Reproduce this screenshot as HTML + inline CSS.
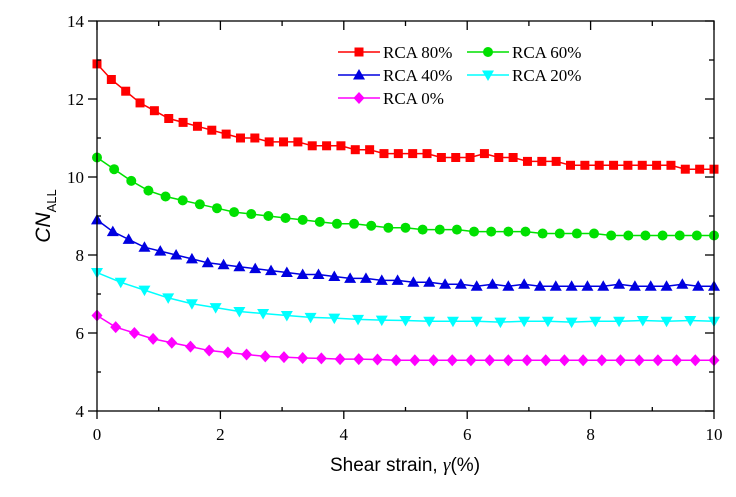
<!DOCTYPE html>
<html><head><meta charset="utf-8"><style>
body{margin:0;background:#fff;width:736px;height:492px;overflow:hidden}
text{fill:#000}
</style></head><body>
<svg id="chart" width="736" height="492" xmlns="http://www.w3.org/2000/svg"></svg>
<script>
const xTicks=[0,2,4,6,8,10];
const yTicks=[4,6,8,10,12,14];
const rca80=[12.9,12.5,12.2,11.9,11.7,11.5,11.4,11.3,11.2,11.1,11.0,11.0,10.9,10.9,10.9,10.8,10.8,10.8,10.7,10.7,10.6,10.6,10.6,10.6,10.5,10.5,10.5,10.6,10.5,10.5,10.4,10.4,10.4,10.3,10.3,10.3,10.3,10.3,10.3,10.3,10.3,10.2,10.2,10.2];
const rca60=[10.5,10.2,9.9,9.65,9.5,9.4,9.3,9.2,9.1,9.05,9.0,8.95,8.9,8.85,8.8,8.8,8.75,8.7,8.7,8.65,8.65,8.65,8.6,8.6,8.6,8.6,8.55,8.55,8.55,8.55,8.5,8.5,8.5,8.5,8.5,8.5,8.5];
const rca40=[8.9,8.6,8.4,8.2,8.1,8.0,7.9,7.8,7.75,7.7,7.65,7.6,7.55,7.5,7.5,7.45,7.4,7.4,7.35,7.35,7.3,7.3,7.25,7.25,7.2,7.25,7.2,7.25,7.2,7.2,7.2,7.2,7.2,7.25,7.2,7.2,7.2,7.25,7.2,7.2];
const rca20=[7.55,7.3,7.1,6.9,6.75,6.65,6.55,6.5,6.45,6.4,6.38,6.35,6.33,6.32,6.3,6.3,6.3,6.28,6.3,6.3,6.28,6.3,6.3,6.32,6.3,6.32,6.3];
const rca0=[6.45,6.15,6.0,5.85,5.75,5.65,5.55,5.5,5.45,5.4,5.38,5.36,5.35,5.33,5.33,5.32,5.3,5.3,5.3,5.3,5.3,5.3,5.3,5.3,5.3,5.3,5.3,5.3,5.3,5.3,5.3,5.3,5.3,5.3];

const L=97,R=714,T=21,B=411;
const sx=v=>L+(v-0)/(10-0)*(R-L);
const sy=v=>B-(v-4)/(14-4)*(B-T);
const svg=document.getElementById('chart');
const NS='http://www.w3.org/2000/svg';
function mk(tag,attrs,parent){const e=document.createElementNS(NS,tag);for(const k in attrs)e.setAttribute(k,attrs[k]);(parent||svg).appendChild(e);return e;}

function marker(shape,x,y,color,g){
  if(shape==='square')return mk('rect',{x:x-4.5,y:y-4.5,width:9,height:9,fill:color},g);
  if(shape==='circle')return mk('circle',{cx:x,cy:y,r:5,fill:color},g);
  if(shape==='up')return mk('polygon',{points:`${x},${y-6} ${x-6},${y+4.5} ${x+6},${y+4.5}`,fill:color},g);
  if(shape==='down')return mk('polygon',{points:`${x},${y+6} ${x-6},${y-4.5} ${x+6},${y-4.5}`,fill:color},g);
  return mk('polygon',{points:`${x},${y-6} ${x+5.5},${y} ${x},${y+6} ${x-5.5},${y}`,fill:color},g);
}

const series=[
 {name:'rca-80',label:'RCA 80%',data:rca80,color:'#ff0000',shape:'square'},
 {name:'rca-60',label:'RCA 60%',data:rca60,color:'#00e000',shape:'circle'},
 {name:'rca-40',label:'RCA 40%',data:rca40,color:'#0000e0',shape:'up'},
 {name:'rca-20',label:'RCA 20%',data:rca20,color:'#00ffff',shape:'down'},
 {name:'rca-0',label:'RCA 0%',data:rca0,color:'#ff00ff',shape:'diamond'}
];
series.forEach(s=>{
  const g=mk('g',{});
  
  
  const n=s.data.length;
  const pts=s.data.map((v,i)=>[sx(i*10/(n-1)),sy(v)]);
  mk('polyline',{points:pts.map(p=>p.join(',')).join(' '),fill:'none',stroke:s.color,'stroke-width':1.5},g);
  pts.forEach(p=>{const m=marker(s.shape,p[0],p[1],s.color,g);
    
    });
});

// axes frame
const ax=mk('rect',{x:L,y:T,width:R-L,height:B-T,fill:'none',stroke:'#000','stroke-width':1.3});


xTicks.forEach((v,i)=>{
  const x=sx(v);
  mk('line',{x1:x,y1:B,x2:x,y2:B+8,stroke:'#000','stroke-width':1.3});
  mk('line',{x1:x,y1:T,x2:x,y2:T+9,stroke:'#000','stroke-width':1.3});
  if(i<xTicks.length-1){const m=sx(v+1);
    mk('line',{x1:m,y1:B,x2:m,y2:B-4,stroke:'#000','stroke-width':1.3});
    mk('line',{x1:m,y1:T,x2:m,y2:T+5,stroke:'#000','stroke-width':1.3});}
  const t=mk('text',{x:x,y:B+29,'text-anchor':'middle','font-family':'Liberation Serif, serif','font-size':17});
  t.textContent=v;
  
  
});
yTicks.forEach((v,i)=>{
  const y=sy(v);
  mk('line',{x1:L-9,y1:y,x2:L,y2:y,stroke:'#000','stroke-width':1.3});
  mk('line',{x1:R-9,y1:y,x2:R,y2:y,stroke:'#000','stroke-width':1.3});
  if(i<yTicks.length-1){const m=sy(v+1);
    mk('line',{x1:L,y1:m,x2:L+4,y2:m,stroke:'#000','stroke-width':1.3});
    mk('line',{x1:R-5,y1:m,x2:R,y2:m,stroke:'#000','stroke-width':1.3});}
  const t=mk('text',{x:L-13,y:y+6,'text-anchor':'end','font-family':'Liberation Serif, serif','font-size':17});
  t.textContent=v;
  
  
});
const xt=mk('text',{x:405,y:471,'text-anchor':'middle','font-family':'Liberation Sans, sans-serif','font-size':19});
xt.innerHTML='Shear strain, <tspan font-family="Liberation Serif, serif" font-style="italic">γ</tspan>(%)';


const yt=mk('text',{transform:'translate(50,216) rotate(-90)','text-anchor':'middle','font-family':'Liberation Sans, sans-serif','font-size':21});
yt.innerHTML='<tspan font-style="italic">CN</tspan><tspan font-size="13" dy="6">ALL</tspan>';



// legend
const pos=[[338,52],[467,52],[338,75],[467,75],[338,98]];
series.forEach((s,i)=>{
  const g=mk('g',{});
  
  
  const [x,y]=pos[i];
  mk('line',{x1:x,y1:y,x2:x+42,y2:y,stroke:s.color,'stroke-width':1.5},g);
  marker(s.shape,x+21,y,s.color,g);
  const t=mk('text',{x:x+45,y:y+6,'font-family':'Liberation Serif, serif','font-size':17},g);
  t.textContent=s.label;
});
</script>
</body></html>
